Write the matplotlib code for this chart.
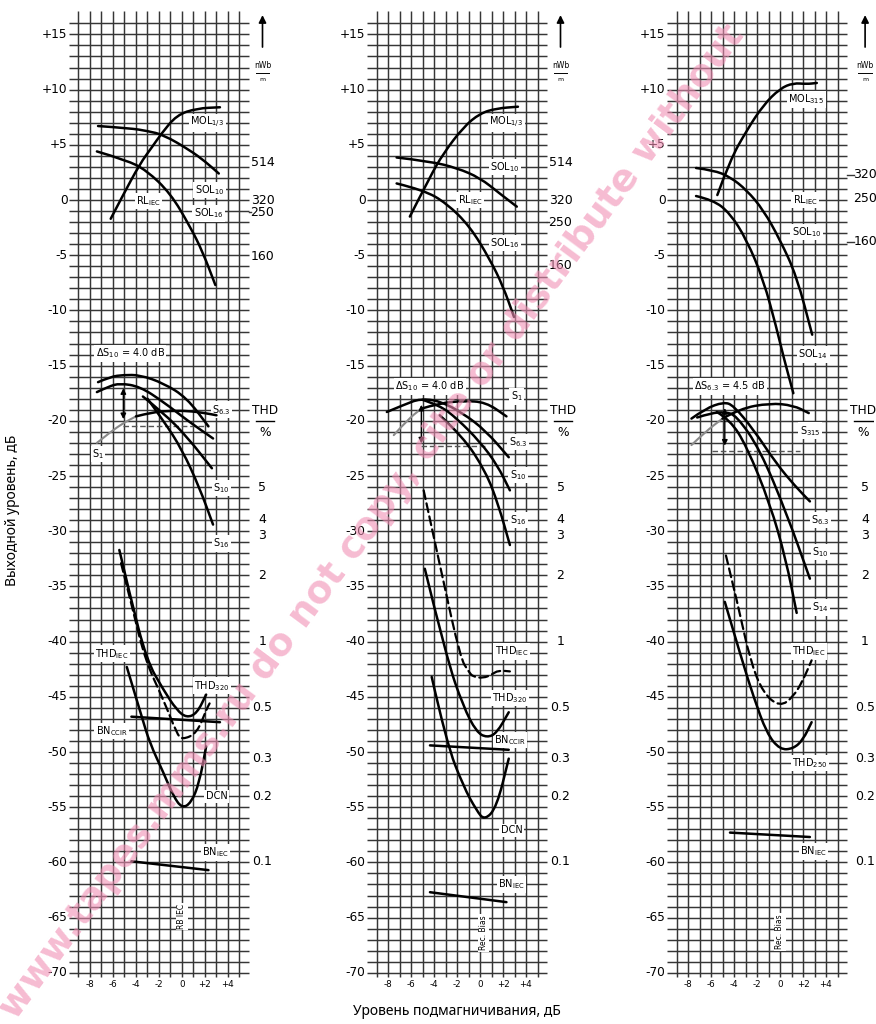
import matplotlib
matplotlib.use("Agg")
import matplotlib.pyplot as plt
from matplotlib.path import Path
from matplotlib.patches import PathPatch

plt.rcParams["mathtext.default"] = "regular"

# ---- data (x = bias level dB, y = output level dB) ----
# panel 1
p1_mol_x = [-6.2, -5.2, -3.65, -2.6, -1.8, -0.46, 1.3, 3.3]
p1_mol_y = [-1.7, 0.3, 3.3, 4.8, 6.0, 7.7, 8.3, 8.4]
p1_sol10_x = [-7.3, -4.5, -3.0, -1.6, 0.7, 2.0, 3.2]
p1_sol10_y = [6.7, 6.5, 6.25, 5.9, 4.5, 3.5, 2.4]
p1_sol16_x = [-7.4, -4.8, -3.1, -1.0, 0.7, 1.8, 2.9]
p1_sol16_y = [4.4, 3.6, 2.7, 0.6, -2.4, -4.7, -7.7]
p1_s63_x = [-7.3, -6.2, -5.1, -3.65, -1.6, 0.4, 2.3]
p1_s63_y = [-16.5, -16.0, -15.85, -15.85, -16.6, -17.9, -20.5]
p1_s10a_x = [-7.4, -6.4, -5.4, -3.65, -1.6, 0.5, 2.7]
p1_s10a_y = [-17.4, -16.9, -16.6, -16.9, -18.3, -20.0, -21.6]
p1_s10_x = [-3.4, -1.6, 0.4, 2.6]
p1_s10_y = [-17.8, -19.3, -21.4, -24.3]
p1_s16_x = [-3.0, -1.6, 0.0, 1.5, 2.7]
p1_s16_y = [-18.0, -20.0, -22.6, -26.0, -29.4]
p1_s1_x = [-7.4, -6.2, -5.1, -4.0, -2.5, -1.0, 0.5, 2.0, 3.0]
p1_s1_y = [-22.0, -21.0, -20.2, -19.6, -19.2, -19.1, -19.1, -19.3, -19.5]
p1_thd320_x = [-5.45, -4.5, -3.07, -1.6, -0.46, 0.4, 1.3, 2.1]
p1_thd320_y = [-31.7, -35.9, -41.7, -44.4, -46.2, -46.9, -46.5, -44.8]
p1_thdiec_x = [-5.3, -4.3, -3.2, -1.6, -0.46, 0.0, 1.3, 2.1, 2.4]
p1_thdiec_y = [-32.9, -37.0, -41.7, -45.3, -48.3, -48.9, -48.3, -46.2, -45.6]
p1_dcn_x = [-4.8, -3.5, -2.8, -1.6, -0.75, 0.0, 0.8, 1.5, 2.1]
p1_dcn_y = [-42.3, -46.8, -49.2, -51.9, -54.0, -55.1, -54.6, -52.8, -49.5]
p1_bnccir_x = [-4.4, 3.3]
p1_bnccir_y = [-46.8, -47.3]
p1_bniec_x = [-4.4, 2.3]
p1_bniec_y = [-59.9, -60.7]

# panel 2
p2_mol_x = [-6.1, -4.35, -3.2, -1.45, 0.0, 1.45, 3.3]
p2_mol_y = [-1.5, 2.1, 4.2, 6.6, 7.85, 8.3, 8.45]
p2_sol10_x = [-7.25, -4.35, -2.0, 0.0, 1.7, 3.2]
p2_sol10_y = [3.85, 3.5, 2.9, 2.0, 0.6, -0.6]
p2_sol16_x = [-7.25, -4.9, -2.9, -0.87, 0.87, 2.0, 2.96]
p2_sol16_y = [1.5, 0.9, -0.3, -2.4, -5.4, -7.8, -10.6]
p2_s1_x = [-7.5, -6.3, -5.1, -3.5, -1.5, 0.5, 2.3]
p2_s1_y = [-21.3, -19.9, -18.9, -18.4, -18.2, -18.3, -19.6]
p2_s63_x = [-8.1, -6.5, -5.2, -3.5, -1.5, 0.5, 2.5]
p2_s63_y = [-19.2, -18.5, -18.0, -18.2, -19.3, -20.9, -23.3]
p2_s10_x = [-5.0, -3.5, -2.0, 0.0, 1.5, 2.6]
p2_s10_y = [-18.1, -18.6, -19.8, -21.9, -24.0, -26.3]
p2_s16_x = [-3.5, -1.5, 0.5, 1.6, 2.6]
p2_s16_y = [-19.5, -21.4, -24.6, -27.6, -31.25]
p2_thdiec_x = [-4.9, -3.3, -1.7, -1.0, -0.6, 0.3, 1.0, 1.6, 2.6]
p2_thdiec_y = [-26.3, -34.0, -41.5, -42.7, -43.2, -43.3, -43.0, -42.6, -42.7]
p2_thd320_x = [-4.8, -2.9, -1.45, -0.3, 0.6, 1.45, 2.5]
p2_thd320_y = [-33.4, -41.5, -45.9, -48.2, -48.7, -48.3, -46.4]
p2_dcn_x = [-4.2, -2.9, -1.45, -0.3, 0.4, 1.45, 2.5]
p2_dcn_y = [-43.2, -49.2, -53.1, -55.3, -56.2, -55.0, -50.6]
p2_bnccir_x = [-4.35, 2.5]
p2_bnccir_y = [-49.4, -49.8]
p2_bniec_x = [-4.35, 2.3]
p2_bniec_y = [-62.7, -63.6]

# panel 3
p3_mol_x = [-5.45, -4.35, -2.9, -1.45, 0.0, 1.16, 2.3, 3.2]
p3_mol_y = [0.45, 3.6, 6.3, 8.6, 10.1, 10.6, 10.5, 10.6]
p3_sol10_x = [-7.3, -5.8, -4.35, -2.9, -1.45, 0.0, 1.45, 2.8]
p3_sol10_y = [2.9, 2.7, 2.1, 0.9, -0.9, -3.6, -6.9, -12.2]
p3_sol14_x = [-7.3, -5.8, -4.35, -2.9, -1.45, -0.3, 0.3, 1.16]
p3_sol14_y = [0.36, 0.0, -1.2, -3.6, -7.2, -11.6, -14.2, -17.5]
p3_s315_x = [-7.7, -6.5, -5.0, -3.5, -0.87, 1.16, 2.5]
p3_s315_y = [-22.2, -21.0, -19.8, -18.9, -18.4, -18.6, -19.3]
p3_s63_x = [-7.7, -6.5, -4.9, -4.05, -2.3, -0.3, 1.3, 2.6]
p3_s63_y = [-19.8, -18.9, -18.3, -18.6, -20.8, -23.9, -25.9, -27.3]
p3_s10_x = [-7.2, -6.0, -4.8, -3.8, -1.74, 0.58, 2.6]
p3_s10_y = [-19.7, -19.3, -19.2, -19.5, -22.6, -28.4, -34.3]
p3_s14_x = [-5.5, -4.35, -2.9, -0.87, 0.5, 1.45]
p3_s14_y = [-19.2, -19.9, -22.3, -27.5, -32.5, -37.4]
p3_thdiec_x = [-4.7, -3.6, -2.6, -1.45, 0.0, 1.16, 2.0, 2.75]
p3_thdiec_y = [-32.2, -36.9, -41.7, -44.7, -45.9, -45.0, -43.5, -41.7]
p3_thd250_x = [-4.8, -3.3, -2.3, -1.16, 0.0, 1.16, 2.0, 2.75]
p3_thd250_y = [-36.4, -41.7, -45.0, -48.3, -49.8, -49.7, -48.9, -47.3]
p3_bniec_x = [-4.35, 2.6]
p3_bniec_y = [-57.3, -57.7]

# curve labels: (text, x, y)
p1_labels = [("MOL$_{1/3}$", 2.2, 7.0), ("SOL$_{10}$", 2.4, 0.9), ("RL$_{IEC}$", -2.9, -0.1),
             ("SOL$_{16}$", 2.3, -1.2), ("S$_{6.3}$", 3.45, -19.0), ("S$_{1}$", -7.3, -23.0),
             ("S$_{10}$", 3.45, -26.1), ("S$_{16}$", 3.45, -31.1), ("THD$_{IEC}$", -6.1, -41.1),
             ("THD$_{320}$", 2.6, -44.0), ("BN$_{CCIR}$", -6.1, -48.1), ("DCN", 3.0, -54.0),
             ("BN$_{IEC}$", 2.9, -59.1)]
p2_labels = [("MOL$_{1/3}$", 2.3, 7.0), ("SOL$_{10}$", 2.2, 3.0), ("RL$_{IEC}$", -0.87, 0.0),
             ("SOL$_{16}$", 2.2, -3.9), ("S$_{1}$", 3.2, -17.8), ("S$_{6.3}$", 3.3, -21.9),
             ("S$_{10}$", 3.3, -24.9), ("S$_{16}$", 3.3, -29.0), ("THD$_{IEC}$", 2.75, -40.9),
             ("THD$_{320}$", 2.6, -45.1), ("BN$_{CCIR}$", 2.6, -48.9), ("DCN", 2.75, -57.1),
             ("BN$_{IEC}$", 2.75, -62.0)]
p3_labels = [("MOL$_{315}$", 2.3, 9.1), ("RL$_{IEC}$", 2.2, 0.0), ("SOL$_{10}$", 2.3, -2.9),
             ("SOL$_{14}$", 2.9, -14.0), ("S$_{315}$", 2.6, -20.9), ("S$_{6.3}$", 3.5, -29.0),
             ("S$_{10}$", 3.5, -31.9), ("S$_{14}$", 3.5, -36.9), ("THD$_{IEC}$", 2.5, -40.9),
             ("THD$_{250}$", 2.6, -51.0), ("BN$_{IEC}$", 2.9, -59.0)]

delta_texts = ["ΔS$_{10}$ = 4.0 dB", "ΔS$_{10}$ = 4.0 dB", "ΔS$_{6.3}$ = 4.5 dB"]
delta_pos = [(-4.5, -13.9), (-4.35, -16.9), (-4.35, -16.9)]
# arrow x, arrow top, arrow bottom, dashed line y, dashed x0, dashed x1
delta_arrow = [(-5.1, -16.8, -20.1, -20.5, -5.1, 2.3),
               (-5.1, -18.3, -22.3, -22.3, -5.1, 0.6),
               (-4.8, -18.6, -22.5, -22.7, -5.9, 1.7)]
bias_texts = ["RB IEC", "Rec. Bias", "Rec. Bias"]
bias_pos = [(0.0, -64.9), (0.3, -66.4), (0.0, -66.3)]

# right-hand scales
flux_labels = [[("514", 3.4, False), ("320", 0.0, False), ("250", -1.1, True), ("160", -5.1, False)],
               [("514", 3.4, False), ("320", 0.0, False), ("250", -2.0, True), ("160", -5.9, False)],
               [("320", 2.3, True), ("250", 0.1, False), ("160", -3.8, True)]]
right_x = [7.0, 7.0, 7.4]
thd_x = [7.2, 7.2, 7.25]
thd_ticks = ["5", "4", "3", "2", "1", "0.5", "0.3", "0.2", "0.1"]
thd_pos = [-26.0, -28.9, -30.4, -34.0, -40.0, -46.0, -50.6, -54.0, -59.9]

# ---- layout (pixels of the reference) ----
W, H = 876, 1024
PX_X, PX_Y = 11.5, 11.04
ZERO_X = [182, 480, 780]
ZERO_Y = 200
XLIM = (-12.5, 8.2)
YLIM = (-74, 18)
GRID = "#363636"


def smooth(ax, x, y, **kw):
    pts = list(zip(x, y))
    if len(pts) < 3:
        ax.plot(x, y, solid_capstyle="round", **kw)
        return
    verts = [pts[0]]
    codes = [Path.MOVETO]
    for i in range(1, len(pts) - 1):
        mid = ((pts[i][0] + pts[i + 1][0]) / 2, (pts[i][1] + pts[i + 1][1]) / 2)
        verts += [pts[i], mid]
        codes += [Path.CURVE3, Path.CURVE3]
    verts.append(pts[-1])
    codes.append(Path.LINETO)
    ax.add_patch(PathPatch(Path(verts, codes), fill=False, capstyle="round", **kw))


def draw_panel(ax, i):
    ax.set_xlim(*XLIM)
    ax.set_ylim(*YLIM)
    ax.axis("off")
    ax.hlines(range(-70, 17), -9.8, 5.8, color=GRID, lw=1.05, zorder=1)
    ax.vlines(range(-9, 6), -70.4, 17.1, color=GRID, lw=1.05, zorder=1)
    for v in range(-70, 16, 5):
        lab = f"+{v}" if v > 0 else str(v)
        ax.text(-9.95, v, lab, ha="right", va="center", fontsize=8.7)
    for v in range(-8, 5, 2):
        lab = f"+{v}" if v > 0 else str(v)
        ax.text(v, -71.1, lab, ha="center", va="center", fontsize=6.3)

    rx = right_x[i]
    ax.annotate("", xy=(rx, 17.0), xytext=(rx, 13.6),
                arrowprops=dict(arrowstyle="-|>", color="black", lw=1.2, mutation_scale=11))
    ax.text(rx, 12.2, "nWb", ha="center", va="center", fontsize=5.5)
    ax.plot([rx - 0.6, rx + 0.6], [11.5, 11.5], color="black", lw=0.7)
    ax.text(rx, 10.9, "m", ha="center", va="center", fontsize=4.5)
    for lab, y, dash in flux_labels[i]:
        ax.text(rx, y, lab, ha="center", va="center", fontsize=9)
        if dash:
            ax.plot([5.8, rx - 1.0], [y, y], color=GRID, lw=1.0)
    tx = thd_x[i]
    ax.text(tx, -19.1, "THD", ha="center", va="center", fontsize=8.7)
    ax.plot([tx - 0.8, tx + 0.8], [-20.05, -20.05], color="black", lw=1.0)
    ax.text(tx, -21.1, "%", ha="center", va="center", fontsize=8.7)
    for lab, y in zip(thd_ticks, thd_pos):
        ax.text(rx, y, lab, ha="center", va="center", fontsize=9)

    dx, dy_ = delta_pos[i]
    ax.text(dx, dy_, delta_texts[i], ha="center", va="center", fontsize=7, zorder=3,
            bbox=dict(facecolor="white", edgecolor="none", pad=1.2))
    axx, a0, a1, dy, dx0, dx1 = delta_arrow[i]
    ax.annotate("", xy=(axx, a0), xytext=(axx, a1),
                arrowprops=dict(arrowstyle="<|-|>", color="black", lw=1.0, mutation_scale=8),
                zorder=5)
    ax.plot([dx0, dx1], [dy, dy], color="#555555", lw=1.0, ls=(0, (4, 2)), zorder=4)

    bx, by = bias_pos[i]
    ax.text(bx, by, bias_texts[i], rotation=90, ha="center", va="center", fontsize=5.5,
            zorder=3, bbox=dict(facecolor="white", edgecolor="none", pad=1.0))


fig = plt.figure(figsize=(W / 100, H / 100), dpi=100)
axes = []
for i, x0 in enumerate(ZERO_X):
    left = (x0 + XLIM[0] * PX_X) / W
    width = (XLIM[1] - XLIM[0]) * PX_X / W
    bottom = 1 - (ZERO_Y - YLIM[0] * PX_Y) / H
    height = (YLIM[1] - YLIM[0]) * PX_Y / H
    ax = fig.add_axes([left, bottom, width, height])
    draw_panel(ax, i)
    axes.append(ax)

solid = dict(color="black", lw=1.8, zorder=4)
dashed = dict(color="black", lw=1.6, linestyle=(0, (4, 2)), zorder=4)
gray = dict(color="#8a8a8a", lw=1.5, zorder=4)

ax1, ax2, ax3 = axes
for x, y in [(p1_mol_x, p1_mol_y), (p1_sol10_x, p1_sol10_y), (p1_sol16_x, p1_sol16_y),
             (p1_s63_x, p1_s63_y), (p1_s10a_x, p1_s10a_y), (p1_s10_x, p1_s10_y),
             (p1_s16_x, p1_s16_y), (p1_thd320_x, p1_thd320_y), (p1_dcn_x, p1_dcn_y),
             (p1_bnccir_x, p1_bnccir_y), (p1_bniec_x, p1_bniec_y)]:
    smooth(ax1, x, y, **solid)
smooth(ax1, p1_s1_x[:4], p1_s1_y[:4], **gray)
smooth(ax1, p1_s1_x[3:], p1_s1_y[3:], **solid)
smooth(ax1, p1_thdiec_x, p1_thdiec_y, **dashed)

for x, y in [(p2_mol_x, p2_mol_y), (p2_sol10_x, p2_sol10_y), (p2_sol16_x, p2_sol16_y),
             (p2_s63_x, p2_s63_y), (p2_s10_x, p2_s10_y), (p2_s16_x, p2_s16_y),
             (p2_thd320_x, p2_thd320_y), (p2_dcn_x, p2_dcn_y),
             (p2_bnccir_x, p2_bnccir_y), (p2_bniec_x, p2_bniec_y)]:
    smooth(ax2, x, y, **solid)
smooth(ax2, p2_s1_x[:3], p2_s1_y[:3], **gray)
smooth(ax2, p2_s1_x[2:], p2_s1_y[2:], **solid)
smooth(ax2, p2_thdiec_x, p2_thdiec_y, **dashed)

for x, y in [(p3_mol_x, p3_mol_y), (p3_sol10_x, p3_sol10_y), (p3_sol14_x, p3_sol14_y),
             (p3_s63_x, p3_s63_y), (p3_s10_x, p3_s10_y), (p3_s14_x, p3_s14_y),
             (p3_thd250_x, p3_thd250_y), (p3_bniec_x, p3_bniec_y)]:
    smooth(ax3, x, y, **solid)
smooth(ax3, p3_s315_x[:3], p3_s315_y[:3], **gray)
smooth(ax3, p3_s315_x[2:], p3_s315_y[2:], **solid)
smooth(ax3, p3_thdiec_x, p3_thdiec_y, **dashed)

for ax, labels in zip(axes, [p1_labels, p2_labels, p3_labels]):
    for lab, x, y in labels:
        ax.text(x, y, lab, ha="center", va="center", fontsize=7, zorder=3,
                bbox=dict(facecolor="white", edgecolor="none", pad=1.0))

fig.text(0.014, 0.502, "Выходной уровень, дБ", rotation=90, ha="center", va="center",
         fontsize=10, family="Noto Sans")
fig.text(0.522, 0.012, "Уровень подмагничивания, дБ", ha="center", va="center",
         fontsize=10, family="Noto Sans")
fig.text(0.425, 0.49, "www.tapes.mms.ru do not copy, cite or distribute without",
         rotation=53.5, ha="center", va="center", rotation_mode="anchor",
         fontsize=27, fontweight="bold", color="#f08fb4", alpha=0.6, zorder=10)

fig.savefig("out.png", dpi=100, facecolor="white")
